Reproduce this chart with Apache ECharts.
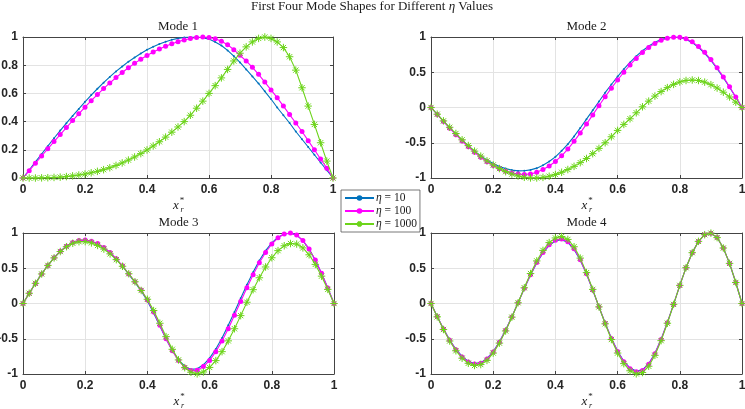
<!DOCTYPE html>
<html>
<head>
<meta charset="UTF-8">
<title>First Four Mode Shapes</title>
<script src="https://cdn.jsdelivr.net/npm/echarts/dist/echarts.min.js"></script>
<style>
  html, body { margin: 0; padding: 0; background: #fff; }
</style>
</head>
<body>
<div id="main" style="width:745px;height:409px;"></div>
<script type="text/javascript">
// x positions along the beam (x_r*)
var xs = [0, 0.02, 0.04, 0.06, 0.08, 0.1, 0.12, 0.14, 0.16, 0.18, 0.2, 0.22, 0.24, 0.26, 0.28, 0.3, 0.32, 0.34, 0.36, 0.38, 0.4,
  0.42, 0.44, 0.46, 0.48, 0.5, 0.52, 0.54, 0.56, 0.58, 0.6, 0.62, 0.64, 0.66, 0.68, 0.7, 0.72, 0.74, 0.76, 0.78, 0.8,
  0.82, 0.84, 0.86, 0.88, 0.9, 0.92, 0.94, 0.96, 0.98, 1];

// mode 1
var m1_eta10 = [0, 0.057, 0.114, 0.17, 0.226, 0.282, 0.336, 0.389, 0.44, 0.49, 0.54, 0.588, 0.633, 0.676, 0.717, 0.756, 0.791, 0.825, 0.855, 0.883, 0.909,
  0.931, 0.951, 0.967, 0.981, 0.99, 0.997, 1.0, 1.0, 0.995, 0.985, 0.965, 0.94, 0.905, 0.865, 0.82, 0.77, 0.72, 0.67, 0.615, 0.56,
  0.5, 0.445, 0.39, 0.33, 0.275, 0.22, 0.165, 0.11, 0.055, 0];
var m1_eta100 = [0, 0.052, 0.104, 0.156, 0.207, 0.258, 0.308, 0.358, 0.407, 0.455, 0.502, 0.548, 0.592, 0.634, 0.674, 0.712, 0.748, 0.782, 0.813, 0.842, 0.869,
  0.893, 0.915, 0.935, 0.952, 0.967, 0.979, 0.989, 0.996, 1.0, 0.997, 0.988, 0.97, 0.945, 0.91, 0.87, 0.83, 0.785, 0.735, 0.68, 0.625,
  0.57, 0.51, 0.45, 0.39, 0.33, 0.265, 0.2, 0.135, 0.07, 0];
var m1_eta1000 = [0, 0, 0, 0.001, 0.002, 0.004, 0.006, 0.01, 0.015, 0.021, 0.028, 0.037, 0.047, 0.059, 0.073, 0.089, 0.107, 0.127, 0.149, 0.173, 0.199,
  0.227, 0.257, 0.29, 0.325, 0.362, 0.4, 0.445, 0.495, 0.545, 0.6, 0.655, 0.71, 0.77, 0.83, 0.885, 0.93, 0.965, 0.99, 1.0, 0.99,
  0.965, 0.925, 0.86, 0.765, 0.64, 0.51, 0.38, 0.25, 0.12, 0];

// mode 2
var m2_eta10 = [0, -0.097, -0.194, -0.288, -0.378, -0.464, -0.545, -0.619, -0.686, -0.745, -0.795, -0.836, -0.867, -0.888, -0.899, -0.898, -0.885, -0.86, -0.82, -0.765, -0.7,
  -0.615, -0.52, -0.41, -0.29, -0.165, -0.04, 0.085, 0.21, 0.326, 0.438, 0.543, 0.64, 0.728, 0.805, 0.871, 0.924, 0.963, 0.988, 1.0, 0.994,
  0.967, 0.92, 0.854, 0.769, 0.667, 0.552, 0.424, 0.288, 0.145, 0];
var m2_eta100 = [0, -0.099, -0.198, -0.294, -0.386, -0.475, -0.558, -0.636, -0.706, -0.769, -0.823, -0.868, -0.904, -0.929, -0.945, -0.95, -0.942, -0.92, -0.88, -0.83, -0.765,
  -0.685, -0.59, -0.48, -0.36, -0.235, -0.105, 0.025, 0.153, 0.274, 0.39, 0.5, 0.603, 0.696, 0.779, 0.85, 0.909, 0.953, 0.983, 0.998, 0.997,
  0.975, 0.931, 0.866, 0.782, 0.68, 0.564, 0.434, 0.294, 0.149, 0];
var m2_eta1000 = [0, -0.095, -0.19, -0.281, -0.369, -0.458, -0.54, -0.619, -0.69, -0.757, -0.815, -0.866, -0.91, -0.944, -0.972, -0.99, -0.999, -0.999, -0.991, -0.975, -0.951,
  -0.919, -0.88, -0.835, -0.782, -0.723, -0.655, -0.58, -0.5, -0.415, -0.325, -0.24, -0.16, -0.075, 0.01, 0.09, 0.162, 0.226, 0.282, 0.328, 0.362,
  0.383, 0.39, 0.383, 0.36, 0.324, 0.276, 0.217, 0.149, 0.076, 0];

// mode 3
var m3_eta10 = [0, 0.145, 0.287, 0.42, 0.542, 0.65, 0.742, 0.813, 0.865, 0.893, 0.899, 0.883, 0.848, 0.793, 0.72, 0.63, 0.528, 0.412, 0.3, 0.178, 0.036,
  -0.135, -0.32, -0.505, -0.665, -0.8, -0.89, -0.935, -0.925, -0.87, -0.775, -0.645, -0.49, -0.31, -0.12, 0.075, 0.265, 0.445, 0.61, 0.75, 0.86,
  0.94, 0.985, 0.998, 0.97, 0.892, 0.772, 0.614, 0.426, 0.219, 0];
var m3_eta100 = [0, 0.144, 0.285, 0.418, 0.54, 0.649, 0.741, 0.813, 0.865, 0.893, 0.899, 0.884, 0.85, 0.796, 0.724, 0.636, 0.535, 0.42, 0.31, 0.19, 0.05,
  -0.12, -0.31, -0.5, -0.67, -0.81, -0.905, -0.95, -0.948, -0.895, -0.807, -0.683, -0.532, -0.357, -0.168, 0.029, 0.222, 0.407, 0.577, 0.724, 0.844,
  0.932, 0.985, 1.0, 0.971, 0.894, 0.774, 0.616, 0.428, 0.22, 0];
var m3_eta1000 = [0, 0.145, 0.286, 0.419, 0.54, 0.647, 0.737, 0.806, 0.854, 0.877, 0.878, 0.86, 0.824, 0.772, 0.704, 0.622, 0.528, 0.422, 0.308, 0.185, 0.06,
  -0.1, -0.28, -0.47, -0.65, -0.8, -0.91, -0.975, -0.998, -0.971, -0.907, -0.81, -0.683, -0.53, -0.358, -0.172, 0.018, 0.196, 0.365, 0.518, 0.649,
  0.75, 0.819, 0.851, 0.843, 0.789, 0.691, 0.555, 0.388, 0.2, 0];

// mode 4
var m4_eta10 = [0, -0.183, -0.357, -0.515, -0.648, -0.751, -0.821, -0.85, -0.839, -0.781, -0.68, -0.544, -0.376, -0.188, 0.01, 0.213, 0.405, 0.576, 0.718, 0.824, 0.887,
  0.906, 0.867, 0.768, 0.614, 0.418, 0.191, -0.047, -0.276, -0.491, -0.675, -0.819, -0.916, -0.958, -0.941, -0.854, -0.706, -0.506, -0.269, -0.013, 0.257,
  0.508, 0.721, 0.881, 0.976, 0.998, 0.935, 0.787, 0.569, 0.298, 0];
var m4_eta100 = [0, -0.185, -0.361, -0.52, -0.655, -0.759, -0.829, -0.859, -0.847, -0.789, -0.687, -0.549, -0.38, -0.19, 0.01, 0.215, 0.409, 0.582, 0.725, 0.832, 0.896,
  0.915, 0.876, 0.776, 0.62, 0.422, 0.193, -0.047, -0.279, -0.496, -0.682, -0.827, -0.925, -0.968, -0.95, -0.863, -0.713, -0.511, -0.272, -0.013, 0.257,
  0.508, 0.721, 0.881, 0.976, 0.998, 0.935, 0.787, 0.569, 0.298, 0];
var m4_eta1000 = [0, -0.189, -0.369, -0.532, -0.67, -0.776, -0.848, -0.879, -0.866, -0.807, -0.703, -0.562, -0.389, -0.194, 0.01, 0.223, 0.425, 0.604, 0.753, 0.864, 0.93,
  0.95, 0.909, 0.805, 0.644, 0.438, 0.2, -0.048, -0.288, -0.511, -0.703, -0.853, -0.954, -0.998, -0.979, -0.89, -0.735, -0.527, -0.28, -0.013, 0.257,
  0.508, 0.721, 0.881, 0.976, 0.998, 0.935, 0.787, 0.569, 0.298, 0];

var seriesNames = ['η = 10', 'η = 100', 'η = 1000'];
var modeTitles = ['Mode 1', 'Mode 2', 'Mode 3', 'Mode 4'];
var xTicks = [0, 0.2, 0.4, 0.6, 0.8, 1];
var yTicksMode1 = [0, 0.2, 0.4, 0.6, 0.8, 1];
var yTicksOther = [-1, -0.5, 0, 0.5, 1];

var modes = [
  [m1_eta10, m1_eta100, m1_eta1000],
  [m2_eta10, m2_eta100, m2_eta1000],
  [m3_eta10, m3_eta100, m3_eta1000],
  [m4_eta10, m4_eta100, m4_eta1000]
];
var yTicksByMode = [yTicksMode1, yTicksOther, yTicksOther, yTicksOther];

var colors = ['#0072BD', '#FF00FF', '#6CD41A'];
var star = 'path://M5,0L5,10M0,5L10,5M1.5,1.5L8.5,8.5M1.5,8.5L8.5,1.5';
var symbols = ['circle', 'circle', star];
var symbolSizes = [2, 5, 7.5];

// subplot boxes (px)
var boxes = [
  { left: 23, top: 37, width: 310, height: 141 },
  { left: 431, top: 37, width: 311, height: 141 },
  { left: 23, top: 233, width: 311, height: 141 },
  { left: 431, top: 233, width: 311, height: 141 }
];

var axisColor = '#444';
var labelFont = { fontFamily: 'Liberation Sans', fontWeight: 'bold', fontSize: 12, color: '#262626' };
var serif = 'Liberation Serif';

function pairs(ys) {
  return xs.map(function (x, i) { return [x, ys[i]]; });
}
function fmt(v) { return String(Math.round(v * 100) / 100); }

var grids = [], xAxes = [], yAxes = [], series = [], graphics = [];

boxes.forEach(function (b, g) {
  var yt = yTicksByMode[g];
  grids.push({ left: b.left, top: b.top, width: b.width, height: b.height, outerBoundsMode: 'none' });
  xAxes.push({
    gridIndex: g, type: 'value', position: 'bottom',
    min: xTicks[0], max: xTicks[xTicks.length - 1], interval: xTicks[1] - xTicks[0],
    axisLine: { show: true, onZero: false, lineStyle: { color: axisColor, width: 1 } },
    axisTick: { show: true, inside: true, length: 3, lineStyle: { color: axisColor } },
    axisLabel: Object.assign({ margin: 6, formatter: fmt }, labelFont),
    splitLine: { show: true, lineStyle: { color: '#e3e3e3', width: 1 } }
  });
  yAxes.push({
    gridIndex: g, type: 'value', position: 'left',
    min: yt[0], max: yt[yt.length - 1], interval: yt[1] - yt[0],
    axisLine: { show: true, onZero: false, lineStyle: { color: axisColor, width: 1 } },
    axisTick: { show: true, inside: true, length: 3, lineStyle: { color: axisColor } },
    axisLabel: Object.assign({ margin: 5, formatter: fmt }, labelFont),
    splitLine: { show: true, lineStyle: { color: '#e3e3e3', width: 1 } }
  });

  modes[g].forEach(function (ys, k) {
    series.push({
      name: seriesNames[k],
      type: 'line',
      xAxisIndex: g, yAxisIndex: g,
      data: pairs(ys),
      symbol: symbols[k],
      symbolSize: symbolSizes[k],
      showSymbol: true,
      lineStyle: { color: colors[k], width: 1.1 },
      itemStyle: { color: colors[k], borderColor: colors[k], borderWidth: k === 2 ? 1 : 0 },
      emphasis: { disabled: true },
      z: 2 + k
    });
  });

  var cx = b.left + b.width / 2;
  graphics.push({
    type: 'text', x: cx, y: b.top - 10,
    style: { text: modeTitles[g], fontFamily: serif, fontSize: 13, fill: '#1a1a1a', align: 'center', verticalAlign: 'middle' }
  });
  // x_r^* axis label
  var ly = b.top + b.height + 28;
  graphics.push({
    type: 'text', x: cx - 2, y: ly,
    style: { text: 'x', fontFamily: serif, fontStyle: 'italic', fontSize: 13, fill: '#1a1a1a', align: 'center', verticalAlign: 'middle' }
  });
  graphics.push({
    type: 'text', x: cx + 4, y: ly + 4,
    style: { text: 'r', fontFamily: serif, fontStyle: 'italic', fontSize: 8, fill: '#1a1a1a', align: 'center', verticalAlign: 'middle' }
  });
  graphics.push({
    type: 'text', x: cx + 4, y: ly - 5,
    style: { text: '*', fontFamily: serif, fontSize: 9, fill: '#1a1a1a', align: 'center', verticalAlign: 'middle' }
  });

  // mirrored frame: top and right axes with ticks only
  xAxes.push({
    gridIndex: g, type: 'value', position: 'top',
    min: xTicks[0], max: xTicks[xTicks.length - 1], interval: xTicks[1] - xTicks[0],
    axisLine: { show: true, onZero: false, lineStyle: { color: axisColor, width: 1 } },
    axisTick: { show: true, inside: true, length: 3, lineStyle: { color: axisColor } },
    axisLabel: { show: false }, splitLine: { show: false }
  });
  yAxes.push({
    gridIndex: g, type: 'value', position: 'right',
    min: yt[0], max: yt[yt.length - 1], interval: yt[1] - yt[0],
    axisLine: { show: true, onZero: false, lineStyle: { color: axisColor, width: 1 } },
    axisTick: { show: true, inside: true, length: 3, lineStyle: { color: axisColor } },
    axisLabel: { show: false }, splitLine: { show: false }
  });
});

// mirrored axes were pushed interleaved; series use the main ones
series.forEach(function (s) {
  s.xAxisIndex = s.xAxisIndex * 2;
  s.yAxisIndex = s.yAxisIndex * 2;
});

graphics.push({
  type: 'text', x: 372, y: 7,
  style: {
    text: 'First Four Mode Shapes for Different {i|η} Values',
    fontFamily: serif, fontSize: 13, fill: '#1a1a1a', align: 'center', verticalAlign: 'middle',
    rich: { i: { fontFamily: serif, fontStyle: 'italic', fontSize: 13, fill: '#1a1a1a' } }
  }
});

var myChart = echarts.init(document.getElementById('main'), null, { renderer: 'canvas' });
myChart.setOption({
  animation: false,
  backgroundColor: '#fff',
  grid: grids,
  xAxis: xAxes,
  yAxis: yAxes,
  legend: {
    data: seriesNames,
    left: 341, top: 190,
    orient: 'vertical',
    itemWidth: 29, itemHeight: 7, itemGap: 1,
    padding: [2, 3, 2, 3],
    borderColor: '#555', borderWidth: 0.8,
    backgroundColor: '#fff',
    formatter: function (name) { return name.replace('η', '{i|η}'); },
    textStyle: {
      fontFamily: serif, fontSize: 11.5, color: '#1a1a1a', padding: [0, 0, 0, -3],
      rich: { i: { fontFamily: serif, fontStyle: 'italic', fontSize: 11.5, color: '#1a1a1a' } }
    }
  },
  graphic: graphics,
  series: series
});
</script>
</body>
</html>
